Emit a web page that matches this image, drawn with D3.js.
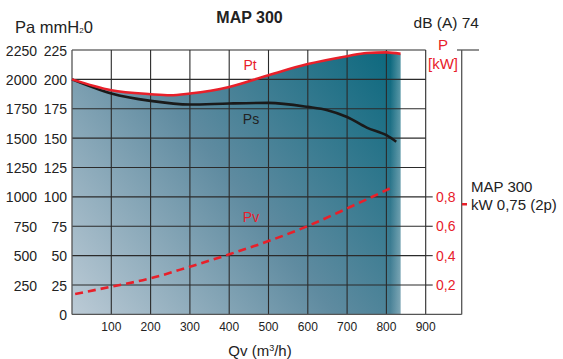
<!DOCTYPE html>
<html>
<head>
<meta charset="utf-8">
<script src="https://d3js.org/d3.v7.min.js"></script>
<style>
  body { margin: 0; background: #fff; }
  svg text { font-family: "Liberation Sans", Arial, sans-serif; fill: #222; }
</style>
</head>
<body>
<svg id="chart" width="563" height="359"></svg>
<script>
// data
var qvTicks = [100, 200, 300, 400, 500, 600, 700, 800, 900];
var mmTicks = [0, 25, 50, 75, 100, 125, 150, 175, 200, 225];
var paTicks = [250, 500, 750, 1000, 1250, 1500, 1750, 2000, 2250];
var kwTicks = [0.2, 0.4, 0.6, 0.8];

var ptQ = [0, 100, 200, 250, 300, 400, 500, 600, 700, 750, 800, 836];
var pt = [200, 190.8, 187.4, 186.5, 188, 193.6, 203.6, 213, 219.7, 222.5, 223, 221.7];
var psQ = [0, 100, 200, 300, 400, 500, 600, 650, 700, 750, 800, 825];
var ps = [200, 188, 181.7, 178.6, 179.5, 180, 176.6, 173.8, 168, 159, 152.5, 146.9];
var pvQ = [8, 100, 200, 300, 400, 500, 600, 700, 818];
var pv = [17.3, 23.6, 30.7, 40.6, 51.1, 62.4, 75.2, 90.2, 108.6];
var motorKw = 0.75;

var svg = d3.select("#chart");
var x = d3.scaleLinear().domain([0, 900]).range([72, 425.7]);
var y = d3.scaleLinear().domain([0, 225]).range([314.4, 50]);
var yPa = d3.scaleLinear().domain([0, 2250]).range([314.4, 50]);
var yKw = d3.scaleLinear().domain([0, 1.8]).range([314.4, 50]);

var defs = svg.append("defs");
var grad = defs.append("linearGradient").attr("id", "fillGrad")
    .attr("gradientUnits", "userSpaceOnUse")
    .attr("x1", 72).attr("y1", 314).attr("x2", 400).attr("y2", 60);
grad.append("stop").attr("offset", 0).attr("stop-color", "#bccbd6");
grad.append("stop").attr("offset", 0.5).attr("stop-color", "#5f8ba0");
grad.append("stop").attr("offset", 1).attr("stop-color", "#0b687e");

var fade = defs.append("linearGradient").attr("id", "edgeFade")
    .attr("x1", 0).attr("x2", 1).attr("y1", 0).attr("y2", 0);
fade.append("stop").attr("offset", 0).attr("stop-color", "#fff").attr("stop-opacity", 0);
fade.append("stop").attr("offset", 1).attr("stop-color", "#fff").attr("stop-opacity", 0.3);

var ptData = ptQ.map((q, i) => [q, pt[i]]);
var psData = psQ.map((q, i) => [q, ps[i]]);
var pvData = pvQ.map((q, i) => [q, pv[i]]);

var area = d3.area().x(d => x(d[0])).y0(y(0)).y1(d => y(d[1])).curve(d3.curveMonotoneX);
svg.append("path").datum(ptData).attr("d", area).attr("fill", "url(#fillGrad)");
svg.append("rect").attr("x", x(810)).attr("y", y(224)).attr("width", x(836) - x(810))
    .attr("height", y(0) - y(224)).attr("fill", "url(#edgeFade)");

// grid
var g = svg.append("g").attr("stroke", "#2b2b2b").attr("stroke-width", 1.1);
g.selectAll(".h").data(mmTicks.filter(d => d > 0)).enter().append("line")
    .attr("x1", x(0)).attr("x2", x(900)).attr("y1", d => y(d)).attr("y2", d => y(d));
g.selectAll(".v").data(qvTicks).enter().append("line")
    .attr("x1", d => x(d)).attr("x2", d => x(d)).attr("y1", y(225)).attr("y2", y(0));
// frame
var f = svg.append("g").attr("stroke", "#555").attr("stroke-width", 1.3);
f.append("line").attr("x1", x(0)).attr("x2", x(0)).attr("y1", y(225)).attr("y2", y(0));
f.append("line").attr("x1", x(0)).attr("x2", 461.7).attr("y1", y(0)).attr("y2", y(0));
f.append("line").attr("x1", 461.7).attr("x2", 461.7).attr("y1", y(225)).attr("y2", y(0));
f.append("line").attr("x1", 457).attr("x2", 479).attr("y1", y(225)).attr("y2", y(225));

// right kW ticks
svg.append("g").attr("stroke", "#2b2b2b").attr("stroke-width", 1.1)
  .selectAll("line").data(kwTicks).enter().append("line")
    .attr("x1", x(900)).attr("x2", x(900) + 7).attr("y1", d => yKw(d)).attr("y2", d => yKw(d));
svg.append("g").selectAll("text").data(kwTicks).enter().append("text")
    .attr("x", 436).attr("y", d => yKw(d)).attr("dy", "0.36em")
    .style("fill", "#e8202a").style("font-size", "14px")
    .text(d => d3.format(".1f")(d).replace(".", ","));

// curves
var line = d3.line().x(d => x(d[0])).y(d => y(d[1])).curve(d3.curveMonotoneX);
svg.append("path").datum(psData).attr("d", line).attr("fill", "none")
    .attr("stroke", "#1a1a1a").attr("stroke-width", 2.6);
svg.append("path").datum(ptData).attr("d", line).attr("fill", "none")
    .attr("stroke", "#e8202a").attr("stroke-width", 2.6);
svg.append("path").datum(pvData).attr("d", line).attr("fill", "none")
    .attr("stroke", "#e8202a").attr("stroke-width", 2.6).attr("stroke-dasharray", "8,5");

// axis labels
svg.append("g").selectAll("text").data(paTicks).enter().append("text")
    .attr("x", 37).attr("y", d => yPa(d)).attr("dy", "0.4em").attr("text-anchor", "end")
    .style("font-size", "14px").text(d => d);
svg.append("g").selectAll("text").data(mmTicks).enter().append("text")
    .attr("x", 67).attr("y", d => y(d)).attr("dy", "0.4em").attr("text-anchor", "end")
    .style("font-size", "14px").text(d => d);
svg.append("g").selectAll("text").data(qvTicks).enter().append("text")
    .attr("x", d => x(d)).attr("y", 331).attr("text-anchor", "middle")
    .style("font-size", "12px").text(d => d);

// texts
function txt(tx, ty, s, size, color, anchor, weight) {
  return svg.append("text").attr("x", tx).attr("y", ty).attr("text-anchor", anchor || "start")
    .style("font-size", size + "px").style("fill", color || "#222")
    .style("font-weight", weight || "normal").text(s);
}
txt(249.5, 23, "MAP 300", 16, "#222", "middle", "bold");
var pa = txt(15, 33, "Pa mmH", 16.5);
pa.append("tspan").style("font-size", "8px").text("2");
pa.append("tspan").text("0");
txt(479, 28, "dB (A) 74", 15.5, "#222", "end");
txt(443, 50, "P", 15, "#e8202a", "middle");
txt(443, 69, "[kW]", 15, "#e8202a", "middle");
txt(471, 192, "MAP 300", 15);
txt(471, 210, "kW 0,75 (2p)", 15);
svg.append("line").attr("x1", 462).attr("x2", 467).attr("y1", yKw(motorKw)).attr("y2", yKw(motorKw))
    .attr("stroke", "#e8202a").attr("stroke-width", 2.5);
txt(250, 70, "Pt", 14, "#e8202a", "middle");
txt(251, 124, "Ps", 14, "#222", "middle");
txt(251, 222, "Pv", 14, "#e8202a", "middle");
var qv = txt(260, 356, "Qv (m", 15, "#222", "middle");
qv.append("tspan").attr("dy", -5).style("font-size", "9px").text("3");
qv.append("tspan").attr("dy", 5).text("/h)");
</script>
</body>
</html>
